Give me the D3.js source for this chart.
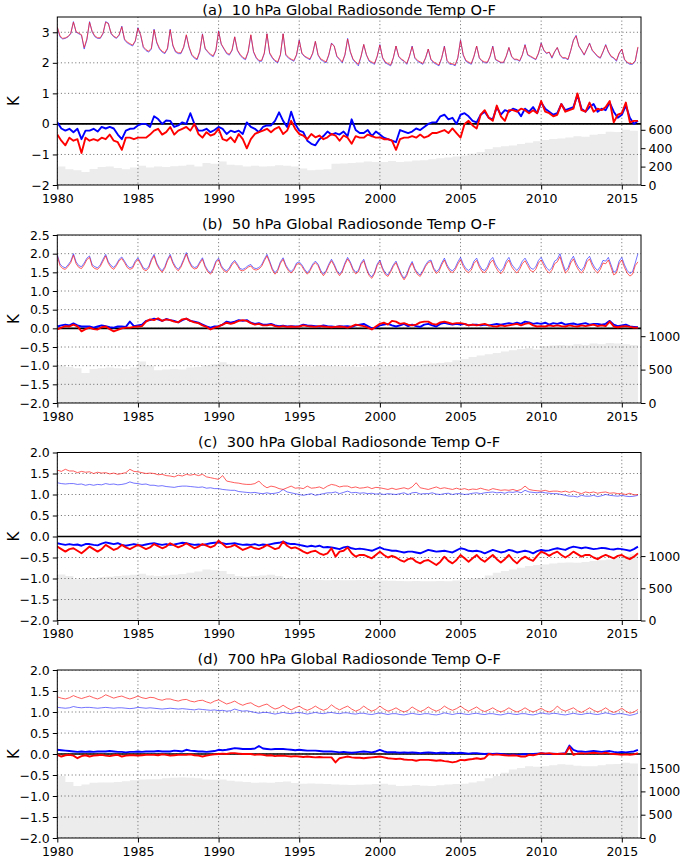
<!DOCTYPE html>
<html><head><meta charset="utf-8">
<script src="https://cdn.jsdelivr.net/npm/d3@7"></script>
<style>body{margin:0;background:#fff} text{font-family:"DejaVu Sans",sans-serif}</style>
</head><body><svg id="chart" width="684" height="860"></svg>
<script>
const startYear = 1980;
const xTickYears = [1980, 1985, 1990, 1995, 2000, 2005, 2010, 2015];

// ---------- (a) 10 hPa : upper lines, 6 values per year ----------
const a10UpperBlue = [
3.15,2.85,2.78,2.80,2.85,2.95, 3.35,3.00,2.95,2.90,2.45,2.75, 3.35,3.00,2.85,2.80,2.80,2.95, 3.35,3.30,2.95,2.85,2.80,2.90,
3.20,2.75,2.65,2.60,2.55,2.70, 3.15,2.90,2.50,2.40,2.35,2.45, 3.10,2.65,2.45,2.35,2.30,2.45, 3.10,2.55,2.35,2.30,2.30,2.50,
2.90,2.50,2.25,2.15,2.10,2.35, 2.95,2.45,2.35,2.25,2.20,2.40, 3.05,2.60,2.45,2.30,2.25,2.40, 2.85,2.40,2.25,2.15,2.10,2.35,
2.90,2.35,2.15,2.05,2.05,2.30, 2.95,2.30,2.15,2.05,2.00,2.25, 2.95,2.25,2.15,2.10,2.05,2.25, 2.75,2.30,2.20,2.15,2.10,2.30,
2.70,2.25,2.10,2.05,2.00,2.25, 2.65,2.55,2.20,2.10,2.00,2.25, 2.80,2.35,2.10,2.00,1.90,2.20, 2.60,2.25,2.05,2.00,1.95,2.20,
2.60,2.15,2.00,1.95,1.90,2.15, 2.55,2.20,2.10,2.05,1.95,2.20, 2.55,2.15,2.05,2.00,1.95,2.15, 2.45,2.10,2.00,1.95,1.90,2.15,
2.55,2.05,1.95,1.95,1.90,2.15, 2.75,2.25,2.05,2.00,1.95,2.20, 2.55,2.15,2.05,2.00,2.00,2.20, 2.55,2.10,2.05,2.00,2.00,2.20,
2.50,2.20,2.10,2.10,2.05,2.25, 2.60,2.25,2.20,2.15,2.10,2.30, 2.65,2.40,2.30,2.35,2.15,2.35, 2.50,2.25,2.15,2.15,2.10,2.40,
2.75,2.90,2.55,2.40,2.25,2.45, 2.65,2.40,2.30,2.20,2.15,2.35, 2.60,2.35,2.20,2.15,2.05,2.30, 2.45,2.10,2.00,1.95,1.95,2.05,
2.50];
const a10UpperRed = [
3.18,2.88,2.80,2.82,2.86,2.97, 3.33,3.02,2.97,2.92,2.50,2.78, 3.33,3.02,2.88,2.82,2.82,2.97, 3.33,3.28,2.97,2.87,2.82,2.92,
3.18,2.78,2.68,2.63,2.58,2.72, 3.13,2.92,2.53,2.43,2.38,2.48, 3.08,2.68,2.48,2.38,2.33,2.48, 3.08,2.58,2.38,2.33,2.33,2.52,
2.92,2.52,2.28,2.18,2.13,2.38, 2.93,2.48,2.37,2.28,2.23,2.42, 3.03,2.62,2.47,2.33,2.28,2.42, 2.85,2.42,2.28,2.18,2.13,2.37,
2.92,2.37,2.18,2.08,2.08,2.32, 2.95,2.33,2.18,2.08,2.03,2.27, 2.95,2.28,2.18,2.12,2.08,2.27, 2.73,2.32,2.22,2.17,2.13,2.32,
2.70,2.27,2.13,2.08,2.03,2.27, 2.63,2.55,2.22,2.13,2.03,2.27, 2.78,2.37,2.13,2.03,1.95,2.22, 2.60,2.27,2.08,2.03,1.98,2.22,
2.58,2.18,2.03,1.98,1.93,2.17, 2.55,2.22,2.12,2.07,1.98,2.22, 2.53,2.18,2.08,2.03,1.98,2.17, 2.45,2.12,2.03,1.98,1.93,2.17,
2.53,2.08,1.98,1.97,1.93,2.17, 2.73,2.27,2.08,2.03,1.98,2.22, 2.55,2.17,2.07,2.03,2.02,2.22, 2.53,2.12,2.07,2.02,2.02,2.22,
2.50,2.22,2.12,2.12,2.07,2.27, 2.58,2.27,2.22,2.17,2.12,2.32, 2.63,2.42,2.32,2.35,2.18,2.37, 2.50,2.27,2.17,2.17,2.12,2.40,
2.73,2.88,2.55,2.42,2.27,2.45, 2.63,2.42,2.32,2.22,2.17,2.37, 2.58,2.37,2.22,2.17,2.08,2.32, 2.45,2.12,2.02,1.98,1.97,2.07,
2.52];
// (a) lower lines, 4 values per year
const a10LowerBlue = [
0.05,-0.15,-0.22,-0.16, -0.27,-0.16,-0.50,-0.22, -0.22,-0.16,-0.25,-0.10, -0.15,-0.10,-0.15,-0.35,
-0.50,-0.22,-0.16,-0.15, -0.05,0.00,0.00,-0.10, 0.25,0.16,0.00,0.11, 0.10,-0.10,-0.05,0.05,
0.00,0.35,0.00,-0.22, -0.22,-0.16,-0.27,-0.20, -0.10,-0.16,-0.33,-0.22, -0.27,-0.22,-0.33,0.05,
-0.10,-0.16,-0.27,-0.10, -0.05,-0.05,0.10,0.38, 0.10,-0.10,0.40,0.00, -0.22,-0.27,-0.55,-0.65,
-0.70,-0.50,-0.40,-0.25, -0.35,-0.30,-0.35,-0.25, -0.40,0.15,-0.20,-0.30, -0.30,-0.20,-0.40,-0.25,
-0.35,-0.45,-0.50,-0.55, -0.60,-0.20,-0.25,-0.30, -0.25,-0.15,-0.20,-0.10, 0.00,0.05,0.05,0.25,
0.30,0.15,0.20,0.00, 0.30,0.35,0.25,0.10, 0.05,0.30,0.40,0.20, 0.15,0.55,0.30,0.45,
0.40,0.50,0.45,0.25, 0.50,0.40,0.55,0.35, 0.70,0.50,0.40,0.30, 0.35,0.65,0.45,0.50,
0.55,0.95,0.50,0.40, 0.55,0.65,0.40,0.50, 0.45,0.70,0.40,0.20, 0.30,0.60,0.20,0.00,
0.10];
const a10LowerRed = [
-0.35,-0.55,-0.70,-0.45, -0.55,-0.50,-0.95,-0.45, -0.55,-0.50,-0.55,-0.45, -0.50,-0.35,-0.55,-0.60,
-0.85,-0.45,-0.45,-0.50, -0.45,-0.45,-0.45,-0.35, -0.22,-0.16,-0.35,-0.27, -0.10,-0.35,-0.22,-0.16,
-0.10,-0.22,0.00,-0.33, -0.45,-0.27,-0.38,-0.33, -0.16,-0.50,-0.55,-0.44, -0.60,-0.33,-0.50,-0.80,
-0.50,-0.33,-0.27,-0.22, -0.16,-0.27,-0.16,-0.10, -0.33,-0.22,0.10,-0.16, -0.33,-0.38,-0.50,-0.33,
-0.44,-0.38,-0.50,-0.44, -0.33,-0.38,-0.55,-0.38, -0.45,-0.65,-0.40,-0.45, -0.45,-0.35,-0.40,-0.45,
-0.44,-0.50,-0.50,-0.55, -0.85,-0.50,-0.45,-0.45, -0.40,-0.45,-0.35,-0.45, -0.40,-0.30,-0.30,-0.25,
-0.20,-0.30,-0.15,-0.30, -0.45,0.00,0.10,-0.05, -0.15,0.30,0.45,0.20, 0.10,0.60,0.25,0.10,
0.45,0.45,0.40,0.50, 0.45,0.35,0.45,0.35, 0.75,0.40,0.35,0.25, 0.30,0.65,0.40,0.45,
0.50,1.00,0.45,0.40, 0.70,0.40,0.50,0.45, 0.55,0.75,0.05,0.30, 0.35,0.70,0.05,0.10,
0.10];
// (a) observation counts, 2 values per year
const a10Count = [
200,170, 160,140, 175,195, 200,185, 170,190, 210,190, 200,195, 205,210, 220,200, 240,230,
255,220, 215,200, 210,200, 205,215, 210,200, 180,160, 165,170, 230,235, 240,245, 255,250,
250,260, 250,255, 265,270, 280,290, 300,310, 320,340, 360,390, 410,420, 430,445, 460,475,
490,500, 505,515, 530,525, 545,555, 580,575, 600,590, 560];

// ---------- (b) 50 hPa ----------
const b50UpperBlue = [
1.98,1.72,1.65,1.62,1.70,1.80, 2.00,1.78,1.68,1.65,1.75,1.88, 1.94,1.70,1.65,1.62,1.70,1.85, 1.98,1.78,1.68,1.63,1.72,1.85,
1.91,1.80,1.68,1.62,1.65,1.80, 1.89,1.76,1.62,1.58,1.65,1.85, 1.98,1.75,1.62,1.54,1.65,1.85, 1.98,1.78,1.65,1.58,1.68,1.85,
2.03,1.82,1.68,1.63,1.65,1.78, 1.89,1.68,1.55,1.49,1.60,1.80, 1.88,1.68,1.58,1.54,1.62,1.75, 1.82,1.72,1.60,1.58,1.62,1.68,
1.71,1.62,1.60,1.63,1.70,1.85, 1.98,1.80,1.60,1.49,1.58,1.78, 1.89,1.70,1.58,1.52,1.60,1.75, 1.78,1.70,1.58,1.49,1.58,1.72,
1.80,1.72,1.55,1.45,1.55,1.72, 1.85,1.72,1.55,1.45,1.55,1.75, 1.90,1.78,1.60,1.50,1.55,1.75, 1.85,1.62,1.45,1.38,1.50,1.72,
1.83,1.62,1.48,1.43,1.55,1.70, 1.80,1.62,1.45,1.34,1.45,1.65, 1.79,1.60,1.48,1.43,1.55,1.70, 1.80,1.83,1.62,1.52,1.58,1.75,
1.88,1.70,1.58,1.54,1.62,1.78, 1.90,1.72,1.60,1.55,1.62,1.80, 1.88,1.70,1.58,1.55,1.65,1.82, 1.90,1.72,1.60,1.53,1.62,1.80,
1.90,1.72,1.62,1.55,1.65,1.80, 1.88,1.75,1.62,1.58,1.65,1.82, 1.90,1.75,1.62,1.55,1.62,1.80, 1.85,2.00,1.75,1.55,1.62,1.82,
1.93,1.75,1.62,1.55,1.65,1.85, 1.93,1.75,1.62,1.55,1.65,1.82, 1.80,1.90,1.70,1.50,1.55,1.80, 1.90,1.70,1.55,1.47,1.52,1.75,
2.00];
const b50UpperRed = [
1.94,1.68,1.60,1.58,1.66,1.76, 1.96,1.73,1.63,1.60,1.70,1.84, 1.90,1.66,1.60,1.58,1.66,1.80, 1.94,1.74,1.63,1.58,1.68,1.81,
1.87,1.76,1.63,1.58,1.61,1.76, 1.85,1.72,1.58,1.54,1.61,1.81, 1.94,1.71,1.58,1.50,1.61,1.81, 1.94,1.74,1.61,1.54,1.64,1.81,
1.99,1.78,1.64,1.59,1.61,1.74, 1.85,1.64,1.51,1.45,1.56,1.76, 1.84,1.64,1.54,1.50,1.58,1.71, 1.78,1.68,1.56,1.54,1.58,1.64,
1.67,1.58,1.56,1.59,1.66,1.81, 1.94,1.76,1.56,1.45,1.54,1.74, 1.85,1.66,1.54,1.48,1.56,1.71, 1.74,1.66,1.54,1.45,1.54,1.68,
1.76,1.68,1.51,1.41,1.51,1.68, 1.81,1.68,1.51,1.41,1.51,1.71, 1.86,1.74,1.56,1.46,1.51,1.71, 1.81,1.58,1.41,1.34,1.46,1.68,
1.79,1.58,1.44,1.39,1.51,1.66, 1.76,1.58,1.41,1.30,1.41,1.61, 1.75,1.56,1.44,1.39,1.51,1.66, 1.76,1.79,1.58,1.47,1.53,1.70,
1.83,1.65,1.53,1.49,1.57,1.72, 1.84,1.66,1.54,1.49,1.56,1.74, 1.82,1.64,1.52,1.49,1.59,1.75, 1.83,1.65,1.53,1.46,1.55,1.73,
1.83,1.65,1.55,1.48,1.58,1.73, 1.81,1.68,1.55,1.51,1.58,1.75, 1.83,1.68,1.55,1.48,1.55,1.73, 1.78,1.92,1.68,1.48,1.55,1.75,
1.86,1.68,1.55,1.48,1.58,1.78, 1.86,1.68,1.55,1.48,1.58,1.75, 1.73,1.83,1.63,1.43,1.48,1.73, 1.83,1.63,1.48,1.40,1.45,1.68,
1.78];
const b50LowerBlue = [
0.05,0.08,0.10,0.08, 0.13,0.08,0.05,0.05, 0.05,0.02,0.05,0.08, 0.06,0.03,0.02,0.05,
0.05,0.04,0.18,0.06, 0.08,0.10,0.20,0.22, 0.26,0.24,0.20,0.25, 0.22,0.20,0.16,0.22,
0.26,0.20,0.18,0.15, 0.10,0.05,0.02,0.05, 0.06,0.10,0.18,0.15, 0.18,0.22,0.20,0.22,
0.15,0.12,0.14,0.10, 0.10,0.12,0.08,0.06, 0.07,0.05,0.06,0.05, 0.06,0.10,0.08,0.07,
0.06,0.05,0.08,0.06, 0.05,0.04,0.06,0.05, 0.06,0.04,0.08,0.10, 0.12,0.06,0.00,0.02,
0.08,0.10,0.12,0.08, 0.05,0.08,0.12,0.06, 0.10,0.06,0.04,0.10, 0.12,0.08,0.05,0.12,
0.15,0.12,0.10,0.12, 0.10,0.12,0.08,0.10, 0.10,0.08,0.10,0.08, 0.10,0.12,0.10,0.12,
0.14,0.12,0.15,0.12, 0.18,0.16,0.12,0.14, 0.12,0.15,0.10,0.14, 0.12,0.15,0.10,0.12,
0.13,0.10,0.12,0.14, 0.10,0.12,0.12,0.10, 0.12,0.20,0.10,0.06, 0.08,0.10,0.05,0.04,
0.03];
const b50LowerRed = [
-0.03,0.02,0.06,0.05, 0.10,0.05,-0.08,-0.02, 0.02,-0.02,-0.03,0.03, 0.05,-0.02,-0.08,-0.04,
0.00,0.02,0.02,0.04, 0.05,0.06,0.18,0.24, 0.22,0.27,0.20,0.24, 0.22,0.18,0.16,0.24,
0.26,0.20,0.16,0.14, 0.08,0.04,-0.03,0.02, 0.05,0.10,0.15,0.12, 0.15,0.20,0.22,0.20,
0.14,0.10,0.12,0.08, 0.08,0.10,0.06,0.04, 0.06,0.04,0.05,0.04, 0.05,0.08,0.06,0.05,
0.04,0.06,0.05,0.04, 0.03,0.04,0.05,0.04, 0.02,0.05,0.10,0.08, 0.06,0.02,-0.03,0.05,
0.12,0.15,0.10,0.20, 0.18,0.12,0.14,0.10, 0.08,0.10,0.16,0.18, 0.18,0.12,0.10,0.16,
0.18,0.15,0.12,0.14, 0.14,0.12,0.08,0.10, 0.08,0.10,0.12,0.08, 0.06,0.05,0.08,0.06,
0.08,0.10,0.12,0.08, 0.12,0.14,0.08,0.05, 0.06,0.05,0.08,0.06, 0.08,0.06,0.05,0.08,
0.06,0.05,0.08,0.06, 0.08,0.10,0.06,0.08, 0.06,0.18,0.05,0.03, 0.05,0.06,0.04,0.02,
0.02];
const b50Count = [
560,540, 520,450, 510,520, 530,520, 510,530, 620,560, 490,500, 510,500, 530,540, 560,580,
610,580, 570,560, 550,560, 565,560, 560,555, 550,545, 560,555, 550,545, 545,540, 550,545,
555,560, 555,560, 565,580, 590,600, 610,640, 660,690, 710,730, 750,770, 790,810, 820,800,
850,860, 870,860, 880,870, 890,880, 900,890, 880,870, 860];

// ---------- (c) 300 hPa, 4 values per year ----------
const c300UpperBlue = [
1.28,1.26,1.25,1.26, 1.26,1.24,1.25,1.22, 1.24,1.22,1.24,1.23, 1.26,1.24,1.25,1.23,
1.24,1.26,1.30,1.27, 1.26,1.24,1.25,1.22, 1.22,1.20,1.21,1.19, 1.18,1.17,1.19,1.20,
1.20,1.19,1.18,1.17, 1.18,1.15,1.16,1.14, 1.14,1.12,1.11,1.10, 1.10,1.07,1.06,1.05,
1.04,1.05,1.03,1.02, 1.04,1.02,1.03,1.05, 1.12,1.06,1.04,1.02, 1.00,0.98,1.00,1.02,
0.98,1.00,1.02,1.04, 1.04,1.06,1.02,1.05, 1.08,1.04,1.05,1.03, 1.04,1.02,1.03,1.01,
1.02,1.00,1.02,1.01, 1.00,1.02,1.04,1.00, 1.04,1.05,1.01,1.02, 1.02,1.04,1.01,1.00,
1.02,1.03,1.00,1.02, 1.02,1.00,1.01,1.03, 1.04,1.02,1.04,1.05, 1.06,1.04,1.05,1.03,
1.06,1.05,1.07,1.04, 1.10,1.06,1.05,1.04, 1.06,1.04,1.03,1.02, 1.02,1.00,0.98,0.96,
0.96,0.94,0.98,0.96, 0.96,0.98,0.95,0.97, 1.00,0.98,0.97,0.96, 0.98,0.96,0.95,0.96,
0.98];
const c300UpperRed = [
1.58,1.55,1.60,1.56, 1.56,1.52,1.55,1.53, 1.54,1.50,1.53,1.51, 1.52,1.49,1.51,1.48,
1.50,1.52,1.60,1.55, 1.54,1.52,1.50,1.51, 1.50,1.47,1.48,1.45, 1.44,1.42,1.46,1.44,
1.48,1.46,1.48,1.45, 1.48,1.42,1.40,1.38, 1.36,1.45,1.32,1.30, 1.28,1.27,1.25,1.24,
1.24,1.26,1.32,1.22, 1.16,1.20,1.18,1.14, 1.12,1.16,1.20,1.15, 1.16,1.14,1.20,1.15,
1.16,1.18,1.14,1.20, 1.24,1.22,1.18,1.20, 1.20,1.16,1.18,1.15, 1.16,1.18,1.14,1.17,
1.16,1.14,1.12,1.15, 1.12,1.14,1.16,1.13, 1.18,1.28,1.16,1.14, 1.12,1.15,1.18,1.14,
1.16,1.14,1.12,1.15, 1.12,1.14,1.11,1.13, 1.12,1.15,1.12,1.10, 1.14,1.12,1.10,1.11,
1.10,1.12,1.09,1.12, 1.20,1.12,1.10,1.09, 1.08,1.10,1.07,1.08, 1.08,1.06,1.08,1.05,
1.08,1.05,1.02,1.06, 1.04,1.06,1.03,1.05, 1.06,1.03,1.04,1.02, 1.02,1.00,1.03,0.99,
1.00];
const c300LowerBlue = [
-0.16,-0.18,-0.20,-0.18, -0.20,-0.19,-0.22,-0.18, -0.18,-0.20,-0.21,-0.17, -0.14,-0.16,-0.18,-0.16,
-0.20,-0.22,-0.20,-0.18, -0.20,-0.21,-0.19,-0.17, -0.16,-0.18,-0.20,-0.18, -0.20,-0.19,-0.17,-0.15,
-0.16,-0.18,-0.20,-0.19, -0.20,-0.18,-0.16,-0.15, -0.14,-0.16,-0.18,-0.17, -0.16,-0.18,-0.20,-0.19,
-0.20,-0.18,-0.21,-0.19, -0.20,-0.18,-0.16,-0.15, -0.12,-0.16,-0.18,-0.18, -0.20,-0.22,-0.24,-0.22,
-0.24,-0.22,-0.26,-0.25, -0.26,-0.28,-0.30,-0.26, -0.24,-0.28,-0.30,-0.29, -0.30,-0.32,-0.34,-0.30,
-0.26,-0.30,-0.32,-0.34, -0.34,-0.36,-0.38,-0.36, -0.36,-0.38,-0.40,-0.36, -0.32,-0.34,-0.36,-0.35,
-0.34,-0.36,-0.38,-0.33, -0.28,-0.30,-0.34,-0.35, -0.34,-0.36,-0.40,-0.36, -0.32,-0.35,-0.38,-0.36,
-0.32,-0.34,-0.38,-0.36, -0.34,-0.36,-0.40,-0.35, -0.32,-0.34,-0.33,-0.30, -0.28,-0.30,-0.32,-0.27,
-0.24,-0.26,-0.28,-0.26, -0.28,-0.30,-0.29,-0.27, -0.28,-0.30,-0.31,-0.29, -0.30,-0.32,-0.34,-0.30,
-0.24];
const c300LowerRed = [
-0.24,-0.30,-0.36,-0.30, -0.28,-0.34,-0.40,-0.32, -0.24,-0.30,-0.36,-0.30, -0.20,-0.26,-0.32,-0.28,
-0.20,-0.26,-0.30,-0.25, -0.20,-0.25,-0.30,-0.26, -0.18,-0.23,-0.28,-0.24, -0.16,-0.21,-0.26,-0.22,
-0.16,-0.22,-0.28,-0.24, -0.18,-0.22,-0.26,-0.22, -0.10,-0.18,-0.26,-0.24, -0.20,-0.26,-0.32,-0.28,
-0.24,-0.28,-0.30,-0.26, -0.20,-0.25,-0.30,-0.27, -0.12,-0.22,-0.28,-0.26, -0.30,-0.36,-0.40,-0.36,
-0.34,-0.40,-0.44,-0.40, -0.28,-0.48,-0.36,-0.34, -0.26,-0.40,-0.48,-0.44, -0.44,-0.48,-0.52,-0.44,
-0.36,-0.44,-0.50,-0.46, -0.50,-0.56,-0.60,-0.54, -0.52,-0.60,-0.64,-0.58, -0.56,-0.62,-0.68,-0.60,
-0.48,-0.58,-0.64,-0.56, -0.44,-0.52,-0.60,-0.52, -0.44,-0.54,-0.60,-0.52, -0.44,-0.54,-0.62,-0.54,
-0.44,-0.56,-0.64,-0.54, -0.48,-0.54,-0.58,-0.46, -0.36,-0.40,-0.46,-0.40, -0.36,-0.44,-0.50,-0.44,
-0.36,-0.42,-0.48,-0.44, -0.44,-0.50,-0.54,-0.48, -0.44,-0.48,-0.52,-0.46, -0.44,-0.50,-0.54,-0.48,
-0.40];
const c300Count = [
715,690, 640,650, 660,670, 680,690, 700,710, 725,700, 690,700, 710,720, 740,760, 790,780,
770,720, 690,680, 690,700, 710,690, 660,650, 640,635, 630,625, 630,625, 625,630, 628,625,
620,618, 612,610, 615,610, 608,612, 610,620, 630,650, 660,700, 740,770, 790,820, 845,860,
870,885, 896,900, 895,910, 922,935, 948,970, 1000,1030, 1020];

// ---------- (d) 700 hPa, 4 values per year ----------
const d700UpperBlue = [
1.11,1.10,1.09,1.10, 1.13,1.11,1.10,1.11, 1.11,1.10,1.09,1.10, 1.11,1.10,1.09,1.10,
1.10,1.09,1.08,1.09, 1.11,1.10,1.09,1.10, 1.09,1.08,1.07,1.08, 1.09,1.08,1.07,1.08,
1.07,1.06,1.05,1.07, 1.06,1.05,1.04,1.05, 1.03,1.04,1.02,1.03, 1.07,1.04,1.02,1.03,
1.01,0.99,0.97,0.99, 0.99,0.97,0.95,0.97, 0.99,0.97,0.96,0.98, 0.99,0.97,0.95,0.97,
0.99,0.97,0.96,0.98, 0.99,0.97,0.96,0.98, 0.98,0.96,0.95,0.97, 0.97,0.95,0.94,0.96,
0.98,0.96,0.94,0.96, 0.96,0.94,0.93,0.95, 0.97,0.95,0.94,0.96, 0.96,0.94,0.93,0.95,
0.98,0.96,0.94,0.96, 0.97,0.95,0.94,0.96, 0.97,0.95,0.94,0.96, 0.96,0.94,0.93,0.95,
0.97,0.95,0.94,0.96, 0.96,0.94,0.93,0.95, 0.98,0.96,0.95,0.97, 0.96,0.94,0.93,0.95,
0.97,0.95,0.94,0.96, 0.97,0.95,0.94,0.96, 0.98,0.96,0.94,0.96, 0.96,0.94,0.92,0.94,
0.97];
const d700UpperRed = [
1.36,1.33,1.31,1.34, 1.39,1.35,1.32,1.35, 1.38,1.34,1.31,1.35, 1.41,1.37,1.33,1.36,
1.38,1.34,1.31,1.34, 1.38,1.34,1.32,1.35, 1.34,1.30,1.28,1.31, 1.31,1.28,1.26,1.29,
1.30,1.26,1.24,1.27, 1.28,1.24,1.21,1.26, 1.29,1.24,1.19,1.22, 1.26,1.20,1.16,1.20,
1.22,1.16,1.12,1.16, 1.19,1.12,1.07,1.10, 1.16,1.10,1.05,1.10, 1.14,1.08,1.04,1.08,
1.14,1.08,1.04,1.08, 1.17,1.10,1.05,1.10, 1.14,1.07,1.02,1.06, 1.14,1.07,1.02,1.06,
1.14,1.07,1.02,1.05, 1.10,1.04,1.00,1.04, 1.12,1.06,1.01,1.05, 1.12,1.06,1.02,1.06,
1.14,1.08,1.04,1.08, 1.14,1.07,1.02,1.07, 1.12,1.05,1.01,1.05, 1.10,1.04,1.00,1.04,
1.10,1.04,1.00,1.04, 1.10,1.04,1.00,1.04, 1.09,1.03,1.00,1.04, 1.14,1.06,1.02,1.06,
1.10,1.03,0.99,1.04, 1.10,1.04,1.00,1.04, 1.10,1.03,0.99,1.03, 1.09,1.02,0.97,1.00,
1.06];
const d700LowerBlue = [
0.10,0.09,0.08,0.07, 0.06,0.05,0.06,0.05, 0.06,0.05,0.06,0.06, 0.06,0.07,0.06,0.05,
0.05,0.04,0.05,0.05, 0.06,0.05,0.06,0.06, 0.06,0.07,0.06,0.06, 0.06,0.08,0.07,0.06,
0.10,0.08,0.07,0.06, 0.06,0.05,0.06,0.07, 0.10,0.09,0.10,0.12, 0.14,0.13,0.12,0.12,
0.12,0.13,0.19,0.13, 0.12,0.11,0.12,0.12, 0.12,0.11,0.10,0.09, 0.10,0.09,0.08,0.08,
0.08,0.07,0.06,0.06, 0.06,0.05,0.04,0.05, 0.04,0.03,0.04,0.05, 0.06,0.05,0.04,0.06,
0.10,0.06,0.04,0.04, 0.04,0.03,0.04,0.03, 0.04,0.03,0.02,0.03, 0.04,0.03,0.02,0.03,
0.03,0.02,0.03,0.02, 0.03,0.02,0.01,0.02, 0.02,0.01,0.00,0.01, 0.00,0.01,0.00,-0.01,
-0.02,-0.01,-0.02,-0.01, 0.00,-0.01,0.00,0.01, 0.02,0.01,0.00,0.01, 0.00,0.01,0.02,0.20,
0.10,0.06,0.06,0.05, 0.06,0.07,0.06,0.05, 0.06,0.07,0.05,0.04, 0.05,0.04,0.05,0.06,
0.10];
const d700LowerRed = [
-0.02,-0.06,-0.03,-0.02, -0.04,-0.10,-0.05,-0.03, -0.06,-0.04,-0.03,-0.02, -0.04,-0.05,-0.03,-0.02,
-0.06,-0.04,-0.03,-0.03, -0.04,-0.03,-0.02,-0.02, -0.02,-0.03,-0.01,-0.02, -0.04,-0.03,-0.02,-0.02,
-0.02,-0.01,-0.03,-0.04, -0.06,-0.04,-0.02,-0.01, 0.00,0.01,0.00,0.02, 0.02,0.01,0.00,0.00,
0.00,-0.02,-0.01,-0.02, -0.04,-0.03,-0.05,-0.04, -0.04,-0.05,-0.06,-0.05, -0.06,-0.07,-0.06,-0.07,
-0.08,-0.07,-0.08,-0.08, -0.08,-0.20,-0.10,-0.08, -0.06,-0.08,-0.09,-0.09, -0.10,-0.09,-0.08,-0.07,
-0.06,-0.08,-0.10,-0.11, -0.12,-0.11,-0.13,-0.14, -0.14,-0.16,-0.14,-0.14, -0.14,-0.15,-0.16,-0.15,
-0.17,-0.18,-0.20,-0.18, -0.14,-0.15,-0.13,-0.12, -0.10,-0.12,-0.10,0.00, -0.02,-0.01,-0.02,-0.03,
-0.04,-0.03,-0.04,-0.06, -0.06,-0.02,-0.03,-0.01, 0.02,0.01,0.02,0.00, 0.00,0.01,0.00,0.17,
-0.02,0.01,0.02,0.01, 0.02,0.03,0.02,0.01, 0.03,0.01,0.00,-0.01, -0.02,-0.01,-0.02,-0.01,
0.02];
const d700Count = [
1330,1200, 1115,1150, 1185,1190, 1190,1200, 1220,1240, 1257,1260, 1260,1280, 1293,1300, 1295,1280, 1257,1250,
1257,1230, 1210,1200, 1185,1190, 1185,1200, 1210,1180, 1165,1170, 1165,1160, 1150,1140, 1135,1140, 1150,1160,
1165,1140, 1115,1120, 1135,1120, 1115,1130, 1150,1160, 1165,1190, 1220,1280, 1330,1400, 1470,1500, 1540,1530,
1540,1560, 1580,1570, 1550,1540, 1540,1560, 1580,1590, 1615,1600, 1580];

// ---------- panel configuration ----------
const panelDefs = [
  {title:"(a)  10 hPa Global Radiosonde Temp O-F", yDomain:[-2,3.5], yTicks:[-2,-1,0,1,2,3], yFmt:"d",
   cMax:1826, cTicks:[0,200,400,600], ub:a10UpperBlue, ur:a10UpperRed, uf:6, lb:a10LowerBlue, lr:a10LowerRed, lf:4, cnt:a10Count, cf:2},
  {title:"(b)  50 hPa Global Radiosonde Temp O-F", yDomain:[-2,2.5], yTicks:[-2,-1.5,-1,-0.5,0,0.5,1,1.5,2,2.5], yFmt:".1f",
   cMax:2515, cTicks:[0,500,1000], ub:b50UpperBlue, ur:b50UpperRed, uf:6, lb:b50LowerBlue, lr:b50LowerRed, lf:4, cnt:b50Count, cf:2},
  {title:"(c)  300 hPa Global Radiosonde Temp O-F", yDomain:[-2,2], yTicks:[-2,-1.5,-1,-0.5,0,0.5,1,1.5,2], yFmt:".1f",
   cMax:2608, cTicks:[0,500,1000], ub:c300UpperBlue, ur:c300UpperRed, uf:4, lb:c300LowerBlue, lr:c300LowerRed, lf:4, cnt:c300Count, cf:2},
  {title:"(d)  700 hPa Global Radiosonde Temp O-F", yDomain:[-2,2], yTicks:[-2,-1.5,-1,-0.5,0,0.5,1,1.5,2], yFmt:".1f",
   cMax:3605, cTicks:[0,500,1000,1500], ub:d700UpperBlue, ur:d700UpperRed, uf:4, lb:d700LowerBlue, lr:d700LowerRed, lf:4, cnt:d700Count, cf:2}
];

const svg = d3.select("#chart");
const L = 57.3, R = 641, H = 168;
const tops = [17, 235, 452.5, 670];
const x = d3.scaleLinear().domain([1980, 2016.19]).range([L, R]);
const FS = 12.5;

function series(vals, freq) { return vals.map((v, i) => ({t: startYear + i / freq, v})); }

panelDefs.forEach((p, k) => {
  const top = tops[k], bot = top + H;
  const y = d3.scaleLinear().domain(p.yDomain).range([bot, top]);
  const yc = d3.scaleLinear().domain([0, p.cMax]).range([bot, top]);
  const g = svg.append("g");
  const clipId = "clip" + k;
  svg.append("clipPath").attr("id", clipId).append("rect").attr("x", L).attr("y", top).attr("width", R - L).attr("height", H);
  const plot = g.append("g").attr("clip-path", `url(#${clipId})`);

  // counts (grey)
  plot.append("path").datum(series(p.cnt, p.cf))
    .attr("d", d3.area().x(d => x(d.t)).y0(yc(0)).y1(d => yc(d.v)).curve(d3.curveStepAfter))
    .attr("fill", "#ececec");

  // grid
  const grid = plot.append("g").attr("stroke", "#444").attr("stroke-width", 0.8).attr("stroke-dasharray", "1,2.6");
  xTickYears.forEach(t => grid.append("line").attr("x1", x(t)).attr("x2", x(t)).attr("y1", top).attr("y2", bot));
  p.yTicks.forEach(t => grid.append("line").attr("x1", L).attr("x2", R).attr("y1", y(t)).attr("y2", y(t)));

  const line = d3.line().x(d => x(d.t)).y(d => y(d.v));
  // upper thin lines
  plot.append("path").datum(series(p.ub, p.uf)).attr("d", line).attr("fill", "none")
    .attr("stroke", "#0000ff").attr("stroke-opacity", 0.55).attr("stroke-width", 1.0);
  plot.append("path").datum(series(p.ur, p.uf)).attr("d", line).attr("fill", "none")
    .attr("stroke", "#ff2020").attr("stroke-opacity", 0.72).attr("stroke-width", 1.0);
  // zero line
  plot.append("line").attr("x1", L).attr("x2", R).attr("y1", y(0)).attr("y2", y(0))
    .attr("stroke", "#000").attr("stroke-width", 1.6);
  // lower thick lines
  plot.append("path").datum(series(p.lb, p.lf)).attr("d", line).attr("fill", "none")
    .attr("stroke", "#0000ff").attr("stroke-width", 1.9).attr("stroke-linejoin", "round");
  plot.append("path").datum(series(p.lr, p.lf)).attr("d", line).attr("fill", "none")
    .attr("stroke", "#ff0000").attr("stroke-width", 1.9).attr("stroke-linejoin", "round");

  // frame
  g.append("rect").attr("x", L).attr("y", top).attr("width", R - L).attr("height", H)
    .attr("fill", "none").attr("stroke", "#000").attr("stroke-width", 1);

  // axes
  const ax = g.append("g").attr("transform", `translate(0,${bot})`)
    .call(d3.axisBottom(x).tickValues(xTickYears).tickFormat(d3.format("d")).tickSize(4.5).tickPadding(4.5).tickSizeOuter(0));
  const ay = g.append("g").attr("transform", `translate(${L},0)`)
    .call(d3.axisLeft(y).tickValues(p.yTicks).tickFormat(d3.format(p.yFmt)).tickSize(4.5).tickPadding(3).tickSizeOuter(0));
  const ac = g.append("g").attr("transform", `translate(${R},0)`)
    .call(d3.axisRight(yc).tickValues(p.cTicks).tickFormat(d3.format("d")).tickSize(4.5).tickPadding(3).tickSizeOuter(0));
  [ax, ay, ac].forEach(a => {
    a.select(".domain").remove();
    a.selectAll("text").attr("font-size", FS).attr("font-family", "DejaVu Sans").attr("fill", "#000");
    a.selectAll("line").attr("stroke", "#000");
  });

  // title
  g.append("text").attr("x", (L + R) / 2).attr("y", Math.max(top - 6, 15))
    .attr("text-anchor", "middle").style("white-space", "pre")
    .attr("font-size", 14.6).attr("fill", "#000").text(p.title);
  // y label
  g.append("text").attr("transform", `translate(${19},${top + H / 2}) rotate(-90)`)
    .attr("text-anchor", "middle").attr("font-size", 15).attr("fill", "#000").text("K");
});
</script></body></html>
